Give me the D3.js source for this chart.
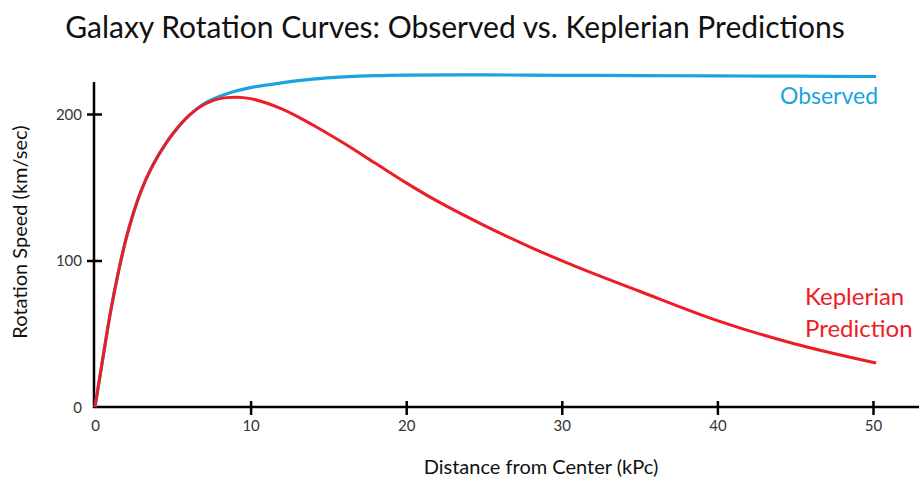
<!DOCTYPE html>
<html><head><meta charset="utf-8">
<script src="https://cdn.jsdelivr.net/npm/d3@7"></script>
<style>body{margin:0;background:#fff}svg{display:block}text{font-family:Lato,"Open Sans",sans-serif}</style>
</head><body><svg id="c" width="919" height="481"></svg>
<script>
const xTicks = [0,10,20,30,40,50];
const yTicks = [0,100,200];
const keplerX = [0,0.5,1,1.5,2,2.5,3,3.5,4,4.5,5,6,7,8,9,10,12,14,16,18,20,22,25,28,31,35,40,45,50.2];
const keplerV = [0,33,65,92,115,133.5,148.5,160.5,170.5,179,186.5,198.5,206.5,210.5,211.5,210.5,203.5,192.5,180,166.5,153,140.5,124,109,95.5,79,59,43,30];
const observedX = [0,0.5,1,1.5,2,2.5,3,3.5,4,4.5,5,6,7,8,9,10,12,14,16,18,20,25,30,35,40,45,50.2];
const observedV = [0,33,65,92,115,133.5,148.5,160.5,170.5,179,186.5,198.5,207,212,215.5,218,221.3,223.8,225.3,226.2,226.6,226.7,226.4,226.2,226,225.8,225.6];

const svg = d3.select("#c");
const x = d3.scaleLinear().domain([0,50]).range([95,873]);
const y = d3.scaleLinear().domain([0,200]).range([407,114]);

svg.append("line").attr("x1",94).attr("x2",94).attr("y1",82).attr("y2",408).attr("stroke","#000").attr("stroke-width",2.5);
svg.append("line").attr("x1",93).attr("x2",919).attr("y1",407).attr("y2",407).attr("stroke","#000").attr("stroke-width",2.5);

const yAxis = d3.axisLeft(y).tickValues(yTicks).tickSize(0).tickPadding(0);
const gy = svg.append("g").attr("transform","translate(94,0)").call(yAxis);
gy.select(".domain").remove();
gy.selectAll(".tick text").attr("x",-12).attr("dy","0.35em").attr("fill","#333").style("font-size","15px").style("font-family","Lato,sans-serif");
gy.selectAll(".tick").filter(d=>d>0).append("line").attr("x1",-7).attr("x2",8).attr("stroke","#000").attr("stroke-width",2.5);

const xAxis = d3.axisBottom(x).tickValues(xTicks).tickSize(0).tickPadding(0);
const gx = svg.append("g").attr("transform","translate(0,407)").call(xAxis);
gx.select(".domain").remove();
gx.selectAll(".tick text").attr("y",19).attr("dy","0.35em").attr("fill","#333").style("font-size","15px").style("font-family","Lato,sans-serif");
gx.selectAll(".tick").filter(d=>d>0).append("line").attr("y1",-6).attr("y2",8).attr("stroke","#000").attr("stroke-width",2.5);

const line = d3.line().x(d=>x(d[0])).y(d=>y(d[1])).curve(d3.curveCatmullRom.alpha(0.5));
svg.append("path").datum(observedX.map((v,i)=>[v,observedV[i]])).attr("d",line).attr("fill","none").attr("stroke","#1aa3e0").attr("stroke-width",3.2);
svg.append("path").datum(keplerX.map((v,i)=>[v,keplerV[i]])).attr("d",line).attr("fill","none").attr("stroke","#ee1c25").attr("stroke-width",3);

svg.append("text").attr("x",455).attr("y",38).attr("text-anchor","middle").style("font-size","30px").attr("fill","#111").text("Galaxy Rotation Curves: Observed vs. Keplerian Predictions");
svg.append("text").attr("x",829).attr("y",104).attr("text-anchor","middle").style("font-size","23px").attr("fill","#1aa3e0").text("Observed");
svg.append("text").attr("x",805).attr("y",305).style("font-size","24px").attr("fill","#ee1c25").text("Keplerian");
svg.append("text").attr("x",805).attr("y",337).style("font-size","24px").attr("fill","#ee1c25").text("Prediction");
svg.append("text").attr("x",541).attr("y",474).attr("text-anchor","middle").style("font-size","20px").attr("fill","#111").text("Distance from Center (kPc)");
svg.append("text").attr("transform","translate(27,232) rotate(-90)").attr("text-anchor","middle").style("font-size","20px").attr("fill","#111").text("Rotation Speed (km/sec)");
</script></body></html>
